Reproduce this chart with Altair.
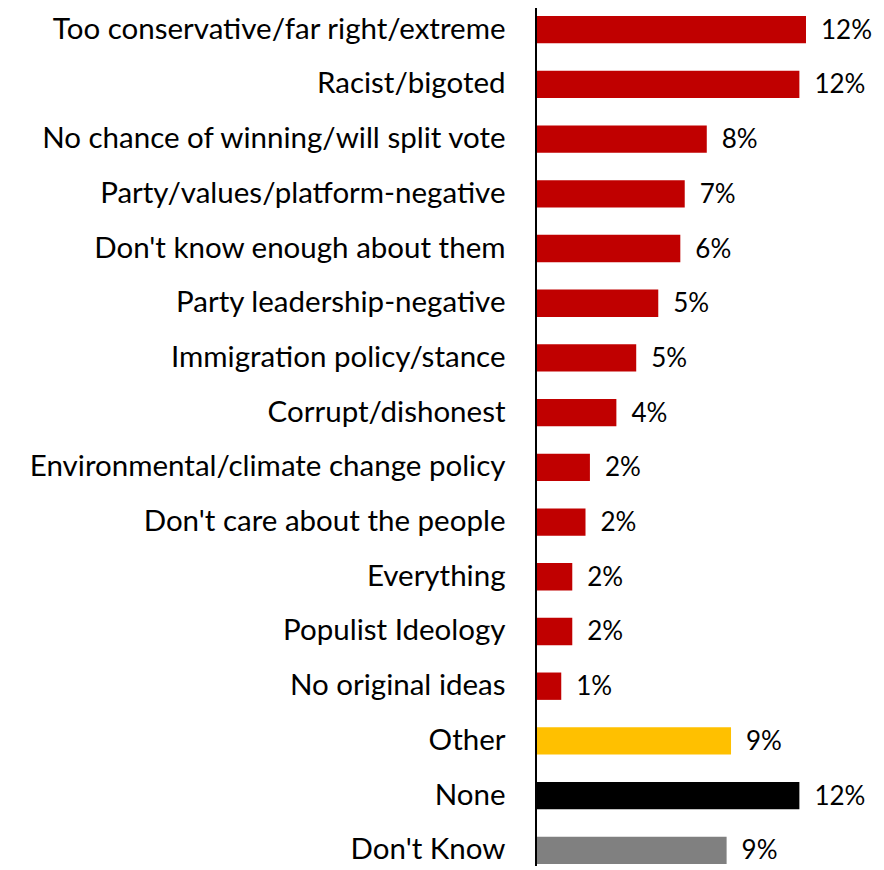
import altair as alt
import pandas as pd

categories = [
    "Too conservative/far right/extreme",
    "Racist/bigoted",
    "No chance of winning/will split vote",
    "Party/values/platform-negative",
    "Don't know enough about them",
    "Party leadership-negative",
    "Immigration policy/stance",
    "Corrupt/dishonest",
    "Environmental/climate change policy",
    "Don't care about the people",
    "Everything",
    "Populist Ideology",
    "No original ideas",
    "Other",
    "None",
    "Don't Know",
]
values = [12.2, 11.9, 7.7, 6.7, 6.5, 5.5, 4.5, 3.6, 2.4, 2.2, 1.6, 1.6, 1.1, 8.8, 11.9, 8.6]
value_labels = ["12%", "12%", "8%", "7%", "6%", "5%", "5%", "4%", "2%", "2%", "2%", "2%", "1%", "9%", "12%", "9%"]
groups = ["reason"] * 13 + ["other", "none", "dk"]
group_names = ["reason", "other", "none", "dk"]
group_colors = ["#C00000", "#FFC000", "#000000", "#808080"]

df = pd.DataFrame({
    "category": categories,
    "value": values,
    "label": value_labels,
    "group": groups,
})

FONT = "Lato"
W = 339
H = 858

y_enc = alt.Y(
    "category:N",
    sort=categories,
    scale=alt.Scale(range=[8, 856], paddingInner=0.5, paddingOuter=0),
    axis=alt.Axis(
        title=None, domain=False, ticks=False, labelPadding=32,
        labelFont=FONT, labelFontSize=29.5, labelColor="#000000", labelLimit=0,
        labelBaseline="middle",
    ),
)
x_enc = alt.X("value:Q", scale=alt.Scale(domain=[0, 15.375], nice=False, zero=True), axis=None)

bars = alt.Chart(df).mark_bar().encode(
    x=x_enc,
    y=y_enc,
    color=alt.Color("group:N", scale=alt.Scale(domain=group_names, range=group_colors), legend=None),
)

texts = alt.Chart(df).mark_text(
    align="left", baseline="middle", dx=15, dy=1, font=FONT, fontSize=26, color="#000000"
).encode(
    x=x_enc,
    y=y_enc,
    text="label:N",
)

rule = alt.Chart(df).mark_rule(color="#000000", strokeWidth=2).encode(
    x=alt.value(-1), y=alt.value(0), y2=alt.value(H)
)

chart = alt.layer(bars, texts, rule).properties(
    width=W,
    height=H,
    autosize=alt.AutoSizeParams(type="none"),
    padding={"left": 529, "top": 0, "right": 0, "bottom": 0},
).configure_view(stroke=None)

chart.save("out.html", embed_options={"renderer": "svg", "actions": False})
